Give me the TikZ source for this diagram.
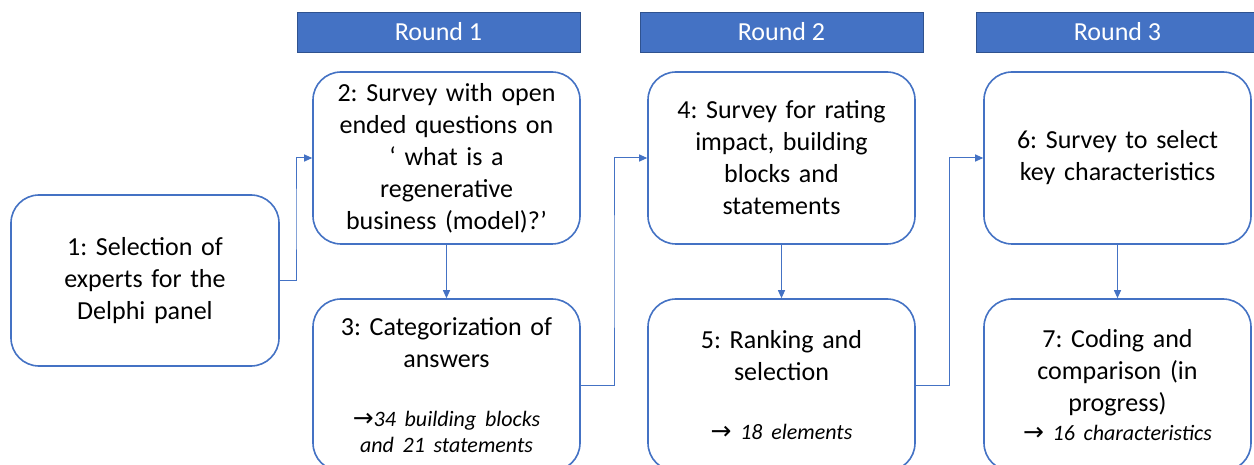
\documentclass[tikz,border=0pt]{standalone}
\usepackage{fontspec}
\setmainfont{Carlito}
\newfontfamily\arrowfont{DejaVu Sans}
\usetikzlibrary{arrows.meta,calc}
\definecolor{accent}{HTML}{4472C4}
\definecolor{accentdark}{HTML}{2F528F}
\newcommand{\rarr}{{\arrowfont\upshape\fontsize{25}{26}\selectfont →}}
\tikzset{
  stepbox/.style={draw=accent, line width=1.6pt, fill=white, rounded corners=28pt,
    minimum width=267pt, minimum height=172pt, text width=255pt, align=center,
    inner sep=0pt, font=\fontsize{26}{32}\selectfont\frenchspacing},
  roundhdr/.style={draw=accentdark, line width=0.8pt, fill=accent, text=white,
    minimum width=283pt, minimum height=40pt, inner sep=0pt,
    font=\fontsize{26}{32}\selectfont},
  conn/.style={draw=accent, line width=1pt, -{Triangle[length=8pt,width=7pt]}},
}
\newcommand{\note}[1]{\par{\itshape\fontsize{22}{26}\selectfont #1\par}}
\begin{document}
\begin{tikzpicture}[x=1pt,y=-1pt]
\useasboundingbox (0,0) rectangle (1254,465);
\fill[white] (0,0) rectangle (1254,465);

\node[roundhdr] (r1) at (438.5,32) {Round 1};
\node[roundhdr] (r2) at (781.5,32) {Round 2};
\node[roundhdr] (r3) at (1117.5,32) {Round 3};

\node[stepbox, minimum width=268pt, minimum height=171pt] (b1) at (145,280.5)
  {1: Selection of\\experts for the\\Delphi panel};
\node[stepbox] (b2) at (446.5,158)
  {2: Survey with open\\ended questions on\\‘ what is a\\regenerative\\business (model)?’};
\node[stepbox] (b3) at (446.5,385)
  {3: Categorization of\\answers\par\vspace{33pt}\note{\rarr34 building blocks\\and 21 statements}};
\node[stepbox] (b4) at (781.5,158)
  {4: Survey for rating\\impact, building\\blocks and\\statements};
\node[stepbox] (b5) at (781.5,385)
  {5: Ranking and\\selection\par\vspace{33pt}\note{\rarr{} 18 elements}};
\node[stepbox] (b6) at (1117.5,158)
  {6: Survey to select\\key characteristics};
\node[stepbox] (b7) at (1117.5,385)
  {7: Coding and\\comparison (in\\progress)\par\vspace{3pt}\note{\rarr{} 16 characteristics}};

\draw[conn] (b1.east) -| ($(b1.east)!.5!(b2.west)$) |- (b2.west);
\draw[conn] (b2.south) -- (b3.north);
\draw[conn] (b3.east) -| ($(b3.east)!.5!(b4.west)$) |- (b4.west);
\draw[conn] (b4.south) -- (b5.north);
\draw[conn] (b5.east) -| ($(b5.east)!.5!(b6.west)$) |- (b6.west);
\draw[conn] (b6.south) -- (b7.north);
\end{tikzpicture}
\end{document}
